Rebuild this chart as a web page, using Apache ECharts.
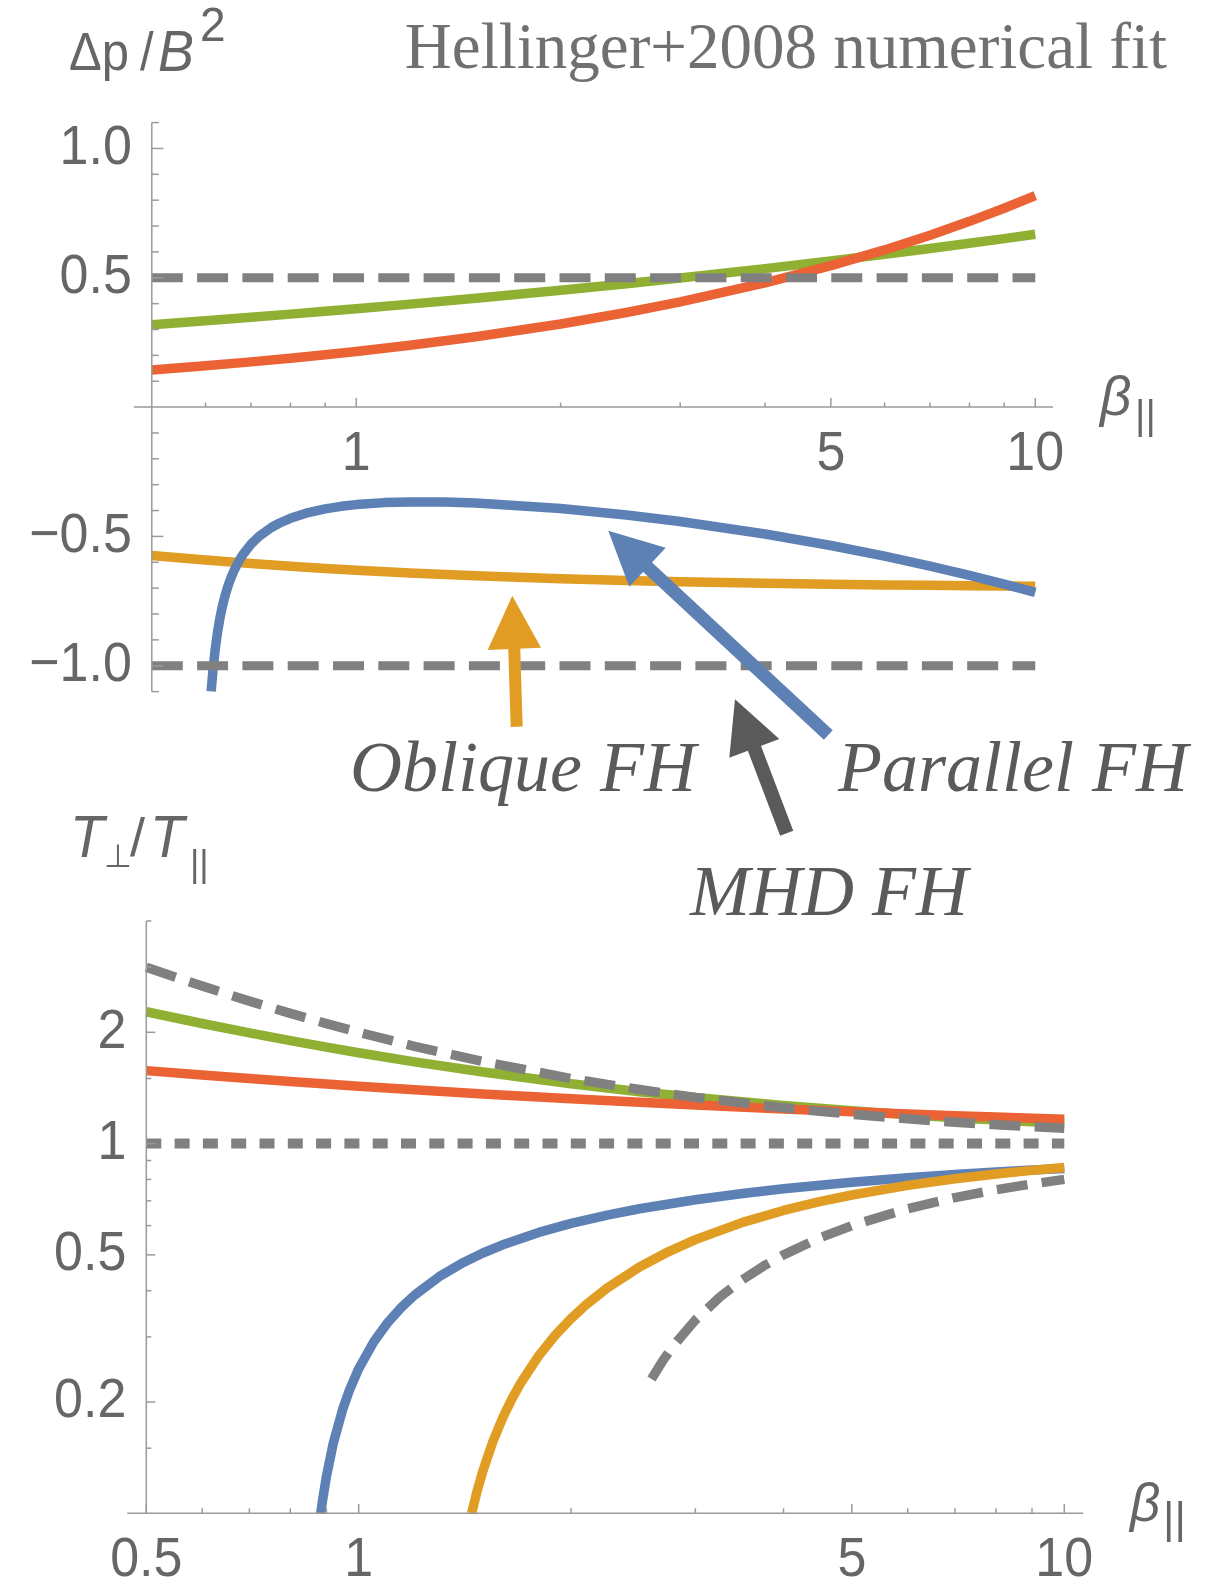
<!DOCTYPE html>
<html>
<head>
<meta charset="utf-8">
<script src="https://cdn.jsdelivr.net/npm/echarts@6/dist/echarts.min.js"></script>
<style>
html,body{margin:0;padding:0;background:#ffffff;}
#c{width:1216px;height:1586px;}
</style>
</head>
<body>
<div id="c"></div>
<script>
// ---------------- data ----------------
// common beta grid (top & bottom panels)
const betaCommon = [0.5,0.6,0.7,0.8,0.9,1,1.2,1.5,2,2.5,3,4,5,6,7,8,9,10];
const betaEnds = [0.5, 10];

// Top panel: Δp/B² versus β∥
const dpMirror    = [0.3183,0.3338,0.3474,0.3595,0.3704,0.3804,0.3982,0.4210,0.4519,0.4773,0.4991,0.5354,0.5653,0.5907,0.6132,0.6332,0.6514,0.6685];
const dpCyclotron = [0.1438,0.1599,0.1748,0.1889,0.2022,0.2150,0.2390,0.2720,0.3214,0.3658,0.4066,0.4804,0.5468,0.6078,0.6646,0.7182,0.7690,0.8174];
const dpOblique   = [-0.5738,-0.5915,-0.6049,-0.6154,-0.6238,-0.6306,-0.6412,-0.6522,-0.6635,-0.6705,-0.6752,-0.6813,-0.6849,-0.6874,-0.6892,-0.6905,-0.6915,-0.6924];
const betaParallelTop = [0.6115,0.615,0.62,0.625,0.63,0.635,0.64,0.645,0.65,0.655,0.66,0.67,0.68,0.7,0.72,0.75,0.77,0.8,0.85,0.9,0.95,1,1.1,1.2,1.35,1.5,2,2.5,3,4,5,6,7,8,9,10];
const dpParallel  = [-1.0995,-1.0214,-0.9346,-0.8682,-0.8152,-0.7719,-0.7358,-0.7051,-0.6786,-0.6552,-0.6349,-0.6005,-0.5726,-0.5300,-0.4990,-0.4655,-0.4490,-0.4299,-0.4079,-0.3934,-0.3837,-0.3770,-0.3693,-0.3665,-0.3669,-0.3706,-0.3918,-0.4169,-0.4423,-0.4906,-0.5351,-0.5763,-0.6145,-0.6504,-0.6842,-0.7162];
const dpMirrorMHD   = [0.5, 0.5];
const dpFirehoseMHD = [-1.0, -1.0];

// Bottom panel: T⊥/T∥ versus β∥
const aniMirror    = [2.2732,2.1127,1.9925,1.8987,1.8231,1.7607,1.6636,1.5613,1.4519,1.3818,1.3327,1.2677,1.2261,1.1969,1.1752,1.1583,1.1448,1.1337];
const aniCyclotron = [1.5753,1.5329,1.4995,1.4722,1.4495,1.4300,1.3983,1.3627,1.3214,1.2927,1.2711,1.2402,1.2187,1.2026,1.1899,1.1796,1.1709,1.1635];
const aniMirrorMHD = [3.0,2.6667,2.4286,2.25,2.1111,2.0,1.8333,1.6667,1.5,1.4,1.3333,1.25,1.2,1.1667,1.1429,1.125,1.1111,1.1];
const betaParallelBot = [0.8835,0.89,0.9,0.92,0.95,0.97,1,1.05,1.1,1.15,1.2,1.3,1.4,1.5,1.6,1.8,2,2.25,2.5,3,3.5,4,5,6,7,8,9,10];
const aniParallel  = [0.1000,0.1104,0.1257,0.1542,0.1923,0.2151,0.2461,0.2907,0.3285,0.3609,0.3892,0.4365,0.4744,0.5059,0.5325,0.5752,0.6082,0.6407,0.6665,0.7051,0.7332,0.7547,0.7860,0.8079,0.8244,0.8374,0.8480,0.8568];
const betaObliqueBot = [1.4456,1.47,1.5,1.55,1.6,1.65,1.7,1.8,1.9,2,2.1,2.25,2.5,2.75,3,3.5,4,4.5,5,6,7,8,9,10];
const aniOblique   = [0.1000,0.1139,0.1304,0.1566,0.1813,0.2045,0.2265,0.2670,0.3035,0.3365,0.3665,0.4068,0.4636,0.5105,0.5498,0.6122,0.6594,0.6963,0.7260,0.7709,0.8031,0.8274,0.8463,0.8615];
const betaFirehoseMHD = [2.6,2.7,2.8,3,3.25,3.5,3.75,4,4.5,5,6,7,8,9,10];
const aniFirehoseMHD  = [0.2308,0.2593,0.2857,0.3333,0.3846,0.4286,0.4667,0.5,0.5556,0.6,0.6667,0.7143,0.75,0.7778,0.8];
const aniIsotropic = [1, 1];

// axis ranges
const topXRange = [0.5, 10.62];
const topYRange = [-1.1, 1.1];
const botXRange = [0.5, 10.64];
const botYRange = [0.1, 4];

// ticks and tick labels
const topXMajor = [1, 5, 10];
const topXMajorLabels = ['1', '5', '10'];
const topXMinor = [0.6,0.7,0.8,0.9,2,3,4,6,7,8,9];
const topYMajor = [-1.0, -0.5, 0.5, 1.0];
const topYMajorLabels = ['\u22121.0', '\u22120.5', '0.5', '1.0'];
const topYMinor = [-1.1,-0.9,-0.8,-0.7,-0.6,-0.4,-0.3,-0.2,-0.1,0.1,0.2,0.3,0.4,0.6,0.7,0.8,0.9,1.1];

const botXMajor = [0.5, 1, 5, 10];
const botXMajorLabels = ['0.5', '1', '5', '10'];
const botXMinor = [0.6,0.7,0.8,0.9,2,3,4,6,7,8,9];
const botYMajor = [0.2, 0.5, 1, 2];
const botYMajorLabels = ['0.2', '0.5', '1', '2'];
const botYMinor = [0.15,0.3,0.4,0.6,0.7,0.8,0.9,1.5,3,4];

// ---------------- styles ----------------
const BLUE = '#5E81B5', ORANGE = '#E19C24', GREEN = '#8FB032', RED = '#EB6235';
const GRAY = '#808080', DARK = '#5A5A5A';
const AXIS_COLOR = '#9a9a9a', LABEL_COLOR = '#666666';
const SANS = '"Liberation Sans", Arial, sans-serif';
const SERIF = '"Liberation Serif", "Times New Roman", serif';
const CURVE_W = 9.5;

function zip(xs, ys) { return xs.map((x, i) => [x, ys[i]]); }

function curve(name, xs, ys, idx, color, dash, width) {
  return {
    name, type: 'line', xAxisIndex: idx, yAxisIndex: idx,
    data: zip(xs, ys), showSymbol: false, symbol: 'none', clip: true,
    silent: true, animation: false, smooth: false,
    lineStyle: { color, width: width || CURVE_W, type: dash || 'solid', cap: 'butt', join: 'round' }
  };
}

function makeTickMeta(xMajor, xMajorLabels, xMinor, yMajor, yMajorLabels, yMinor) {
  const m = [];
  xMajor.forEach((v, i) => m.push({ axis: 'x', v, major: true, label: xMajorLabels[i] }));
  xMinor.forEach(v => m.push({ axis: 'x', v, major: false }));
  yMajor.forEach((v, i) => m.push({ axis: 'y', v, major: true, label: yMajorLabels[i] }));
  yMinor.forEach(v => m.push({ axis: 'y', v, major: false }));
  return m;
}
const topTickMeta = makeTickMeta(topXMajor, topXMajorLabels, topXMinor, topYMajor, topYMajorLabels, topYMinor);
const botTickMeta = makeTickMeta(botXMajor, botXMajorLabels, botXMinor, botYMajor, botYMajorLabels, botYMinor);

function tickSeries(meta, idx, anchorX, anchorY, sz) {
  return {
    type: 'custom', coordinateSystem: 'cartesian2d', xAxisIndex: idx, yAxisIndex: idx,
    silent: true, clip: false, z: 5, animation: false,
    data: meta.map(t => t.axis === 'x' ? [t.v, anchorY] : [anchorX, t.v]),
    renderItem: function (params, api) {
      const t = meta[params.dataIndex];
      const p = api.coord([api.value(0), api.value(1)]);
      const ch = [];
      if (t.axis === 'x') {
        const len = t.major ? sz.xMajor : sz.xMinor;
        ch.push({ type: 'line', shape: { x1: p[0], y1: p[1], x2: p[0], y2: p[1] - len },
                  style: { stroke: AXIS_COLOR, lineWidth: 1.5 } });
        if (t.label) ch.push({ type: 'text', x: p[0], y: p[1] + sz.xLabelOff, scaleY: 1.08,
          style: { text: t.label, align: 'center', verticalAlign: 'middle',
                   fontSize: sz.font, fontFamily: SANS, fill: LABEL_COLOR } });
      } else {
        const len = t.major ? sz.yMajor : sz.yMinor;
        ch.push({ type: 'line', shape: { x1: p[0], y1: p[1], x2: p[0] + len, y2: p[1] },
                  style: { stroke: AXIS_COLOR, lineWidth: 1.5 } });
        if (t.label) ch.push({ type: 'text', x: p[0] - sz.yLabelOff, y: p[1], scaleY: 1.08,
          style: { text: t.label, align: 'right', verticalAlign: 'middle',
                   fontSize: sz.font, fontFamily: SANS, fill: LABEL_COLOR } });
      }
      return { type: 'group', children: ch };
    }
  };
}

function axesSeries(idx, xr, yr, xAxisAt, leftExt) {
  return {
    type: 'custom', coordinateSystem: 'cartesian2d', xAxisIndex: idx, yAxisIndex: idx,
    silent: true, clip: false, z: 4, animation: false,
    data: [[xr[0], xAxisAt]],
    renderItem: function (params, api) {
      const o = api.coord([xr[0], xAxisAt]);
      const r = api.coord([xr[1], xAxisAt]);
      const yt = api.coord([xr[0], yr[1]]);
      const yb = api.coord([xr[0], yr[0]]);
      return { type: 'group', children: [
        { type: 'line', shape: { x1: o[0] - leftExt, y1: o[1], x2: r[0], y2: r[1] },
          style: { stroke: AXIS_COLOR, lineWidth: 1.5 } },
        { type: 'line', shape: { x1: yt[0], y1: yt[1], x2: yb[0], y2: yb[1] },
          style: { stroke: AXIS_COLOR, lineWidth: 1.5 } }
      ]};
    }
  };
}

const hiddenAxis = { axisLine: { show: false }, axisTick: { show: false },
                     axisLabel: { show: false }, splitLine: { show: false } };

const DASH = [31, 14.3];
const DOT = [15, 13.3];

function label(text, x, y, size, opts, scaleY) {
  return { type: 'text', x, y, z: 100, scaleY: scaleY || 1,
    style: Object.assign({ text, fontSize: size, fontFamily: SANS, fill: LABEL_COLOR,
                           align: 'left', verticalAlign: 'middle' }, opts || {}) };
}

const option = {
  backgroundColor: '#ffffff',
  animation: false,
  grid: [
    { left: 151.8, top: 122.6, width: 901.2, height: 569, outerBoundsMode: 'none', containLabel: false },
    { left: 146.3, top: 921, width: 937, height: 592.3, outerBoundsMode: 'none', containLabel: false }
  ],
  xAxis: [
    Object.assign({ type: 'log', logBase: 10, gridIndex: 0, min: topXRange[0], max: topXRange[1] }, hiddenAxis),
    Object.assign({ type: 'log', logBase: 10, gridIndex: 1, min: botXRange[0], max: botXRange[1] }, hiddenAxis)
  ],
  yAxis: [
    Object.assign({ type: 'value', gridIndex: 0, min: topYRange[0], max: topYRange[1] }, hiddenAxis),
    Object.assign({ type: 'log', logBase: 10, gridIndex: 1, min: botYRange[0], max: botYRange[1] }, hiddenAxis)
  ],
  series: [
    axesSeries(0, topXRange, topYRange, 0, 18),
    tickSeries(topTickMeta, 0, topXRange[0], 0,
      { xMajor: 9, xMinor: 4.5, yMajor: 11.5, yMinor: 7, xLabelOff: 47, yLabelOff: 20, font: 52 }),
    curve('Oblique FH', betaCommon, dpOblique, 0, ORANGE),
    curve('Parallel FH', betaParallelTop, dpParallel, 0, BLUE),
    curve('Mirror', betaCommon, dpMirror, 0, GREEN),
    curve('Proton cyclotron', betaCommon, dpCyclotron, 0, RED),
    curve('MHD mirror', betaEnds, dpMirrorMHD, 0, GRAY, DASH, 9),
    curve('MHD firehose', betaEnds, dpFirehoseMHD, 0, GRAY, DASH, 9),

    axesSeries(1, botXRange, botYRange, botYRange[0], 19),
    tickSeries(botTickMeta, 1, botXRange[0], botYRange[0],
      { xMajor: 9.3, xMinor: 5, yMajor: 9, yMinor: 5, xLabelOff: 47.5, yLabelOff: 20, font: 52 }),
    curve('Parallel FH', betaParallelBot, aniParallel, 1, BLUE),
    curve('Oblique FH', betaObliqueBot, aniOblique, 1, ORANGE),
    curve('Mirror', betaCommon, aniMirror, 1, GREEN),
    curve('Proton cyclotron', betaCommon, aniCyclotron, 1, RED),
    curve('MHD mirror', betaCommon, aniMirrorMHD, 1, GRAY, DASH, 9.5),
    curve('MHD firehose', betaFirehoseMHD, aniFirehoseMHD, 1, GRAY, DASH, 9.5),
    curve('Isotropy', betaEnds, aniIsotropic, 1, GRAY, DOT, 10)
  ],
  graphic: [
    // title
    { type: 'text', x: 786, y: 51, z: 100,
      style: { text: 'Hellinger+2008 numerical fit', fontSize: 65, fontFamily: SERIF,
               fill: '#707070', align: 'center', verticalAlign: 'middle' } },
    // Δp/B²
    label('Δp', 69, 55, 49, null, 1.1),
    label('/', 140, 55, 49, null, 1.1),
    label('B', 158, 55, 54, { fontStyle: 'italic' }, 1.05),
    label('2', 200, 28, 46, null, 1.05),
    // T⊥/T∥
    label('T', 70, 841, 56, { fontStyle: 'italic' }, 1.05),
    label('⊥', 104, 858, 32),
    label('/', 130, 841, 54),
    label('T', 150, 841, 56, { fontStyle: 'italic' }, 1.05),
    label('||', 190, 866, 36),
    // β∥ (top)
    label('β', 1100, 400, 55, { fontStyle: 'italic' }),
    label('||', 1135, 418, 40),
    // β∥ (bottom)
    label('β', 1130, 1506, 53, { fontStyle: 'italic' }),
    label('||', 1163, 1521, 44),
    // annotations
    label('Oblique FH', 523, 772, 72, { fontStyle: 'italic', fontFamily: SERIF, fill: DARK, align: 'center' }),
    label('Parallel FH', 1013, 772, 72, { fontStyle: 'italic', fontFamily: SERIF, fill: DARK, align: 'center' }),
    label('MHD FH', 829, 896, 72, { fontStyle: 'italic', fontFamily: SERIF, fill: DARK, align: 'center' }),
    // arrows
    { type: 'polyline', z: 90, shape: { points: [[516.7, 726.7], [514.0, 640]] },
      style: { stroke: ORANGE, lineWidth: 12, fill: null } },
    { type: 'polygon', z: 90, shape: { points: [[512.3, 595.7], [487.7, 650], [541, 647.7]] },
      style: { fill: ORANGE } },
    { type: 'polyline', z: 91, shape: { points: [[828.3, 735], [642, 562]] },
      style: { stroke: BLUE, lineWidth: 13, fill: null } },
    { type: 'polygon', z: 91, shape: { points: [[608.3, 530.7], [665.7, 547.7], [629.3, 586.7]] },
      style: { fill: BLUE } },
    { type: 'polyline', z: 92, shape: { points: [[786.7, 833.3], [752, 742]] },
      style: { stroke: DARK, lineWidth: 14, fill: null } },
    { type: 'polygon', z: 92, shape: { points: [[735, 699.3], [779.3, 739], [729.3, 757.7]] },
      style: { fill: DARK } }
  ]
};

const chart = echarts.init(document.getElementById('c'), null, { renderer: 'canvas', width: 1216, height: 1586 });
chart.setOption(option);
</script>
</body>
</html>
